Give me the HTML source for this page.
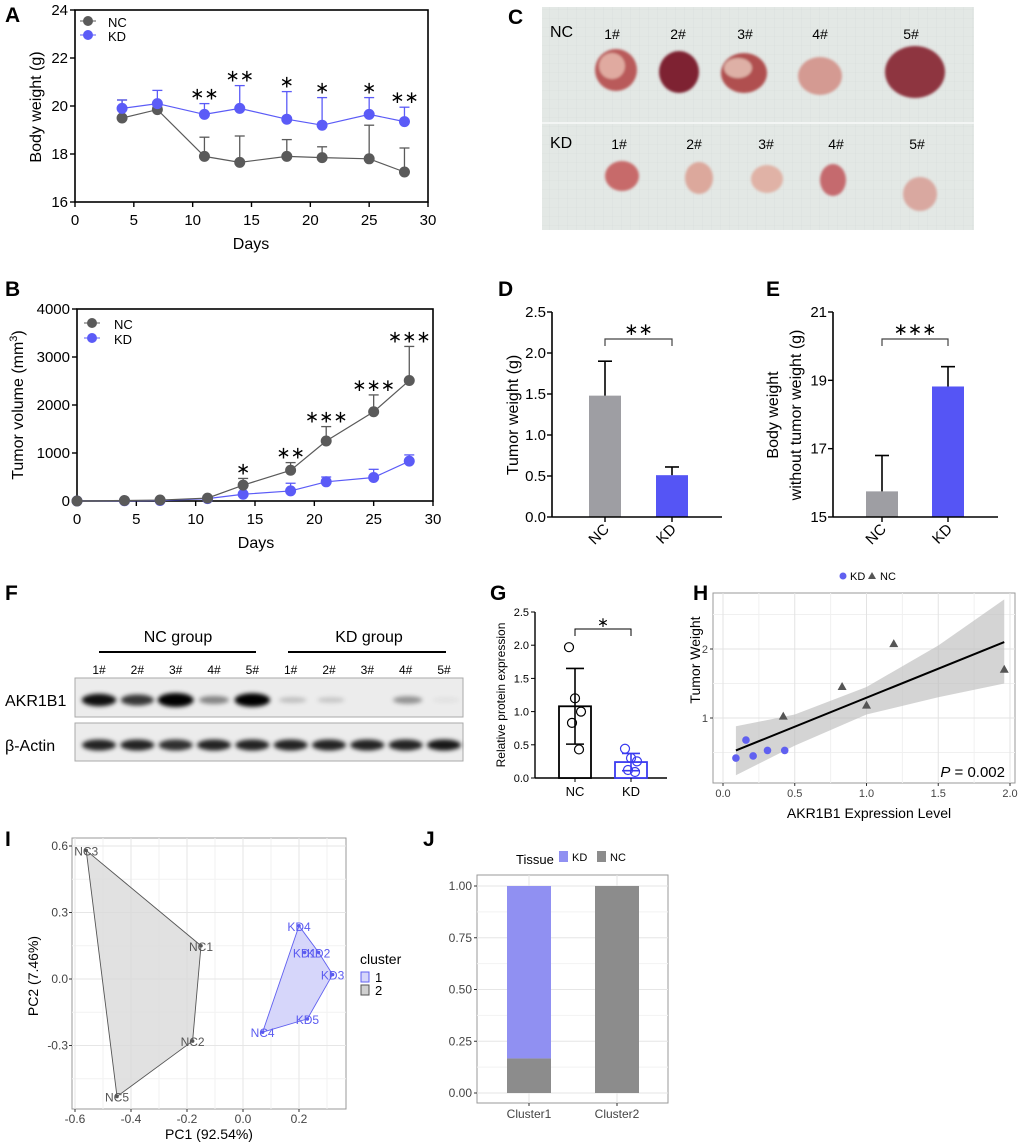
<!DOCTYPE html>
<html><head><meta charset="utf-8"><style>
html,body{margin:0;padding:0;background:#fff}
svg{display:block;font-family:"Liberation Sans",Arial,sans-serif}
</style></head><body>
<svg id="fig" width="1020" height="1142" viewBox="0 0 1020 1142" xmlns="http://www.w3.org/2000/svg">
<defs>
<pattern id="grid" width="9" height="9" patternUnits="userSpaceOnUse"><path d="M9 0H0V9" fill="none" stroke="#d5dbd8" stroke-width="0.6"/></pattern>
<filter id="blur2"><feGaussianBlur stdDeviation="2.2"/></filter>
<filter id="blur1"><feGaussianBlur stdDeviation="1.2"/></filter>
</defs>

<!-- Panel C photo -->
<g>
<rect x="542" y="7" width="432" height="223" fill="#e3e8e5"/>
<rect x="542" y="7" width="432" height="223" fill="url(#grid)"/>
<line x1="542" y1="123" x2="974" y2="123" stroke="#f3f5f4" stroke-width="2"/>
<text x="508" y="24" font-size="21" font-weight="bold">C</text>
<text x="550" y="37" font-size="16">NC</text>
<text x="550" y="148" font-size="16">KD</text>
<g font-size="14" text-anchor="middle">
<text x="612" y="39">1#</text><text x="678" y="39">2#</text><text x="745" y="39">3#</text><text x="820" y="39">4#</text><text x="911" y="39">5#</text>
<text x="619" y="149">1#</text><text x="694" y="149">2#</text><text x="766" y="149">3#</text><text x="836" y="149">4#</text><text x="917" y="149">5#</text>
</g>
<g filter="url(#blur1)">
<ellipse cx="616" cy="70" rx="21" ry="21" fill="#b95a5a"/><ellipse cx="612" cy="66" rx="13" ry="13" fill="#e0aaa0"/>
<ellipse cx="679" cy="72" rx="20" ry="21" fill="#7e2230"/>
<ellipse cx="744" cy="73" rx="23" ry="20" fill="#b05050"/><ellipse cx="738" cy="68" rx="14" ry="10" fill="#deb0a6"/>
<ellipse cx="820" cy="76" rx="22" ry="19" fill="#d49a92"/>
<ellipse cx="915" cy="72" rx="30" ry="26" fill="#8e3440"/>
<ellipse cx="622" cy="176" rx="17" ry="15" fill="#c76b6b"/>
<ellipse cx="699" cy="178" rx="14" ry="16" fill="#dca89c"/>
<ellipse cx="767" cy="179" rx="16" ry="14" fill="#e0b2a6"/>
<ellipse cx="833" cy="180" rx="13" ry="16" fill="#c56a6e"/>
<ellipse cx="920" cy="194" rx="17" ry="17" fill="#d9a8a0"/>
</g>
</g>

<g id="root"></g>
</svg>
<script>
// ---------- data ----------
const daysA = [4,7,11,14,18,21,25,28];
const ncWeight = [19.5,19.85,17.9,17.65,17.9,17.85,17.8,17.25];
const ncWeightUp = [20.25,19.95,18.7,18.75,18.6,18.3,19.2,18.25];
const kdWeight = [19.9,20.1,19.65,19.9,19.45,19.2,19.65,19.35];
const kdWeightUp = [20.25,20.65,20.1,20.85,20.6,20.35,20.35,19.95];
const starsA = ["","","**","**","*","*","*","**"];
const ticksAx = [0,5,10,15,20,25,30];
const ticksAy = [16,18,20,22,24];

const daysB = [0,4,7,11,14,18,21,25,28];
const ncVol = [0,10,20,60,330,640,1250,1860,2510];
const ncVolUp = [0,10,20,60,470,800,1550,2210,3220];
const kdVol = [0,5,10,50,140,210,400,490,830];
const kdVolUp = [0,5,10,50,140,370,500,660,960];
const starsB = ["","","","","*","**","***","***","***"];
const ticksBy = [0,1000,2000,3000,4000];

const groups = ["NC","KD"];
const tumorWeight = [1.48,0.51];
const tumorWeightUp = [1.9,0.61];
const ticksDy = [0,0.5,1.0,1.5,2.0,2.5];
const bodyNoTumor = [15.75,18.82];
const bodyNoTumorUp = [16.8,19.4];
const ticksEy = [15,17,19,21];

const laneNames = ["1#","2#","3#","4#","5#","1#","2#","3#","4#","5#"];
const akrIntensity = [0.85,0.7,1.0,0.4,0.95,0.18,0.15,0.0,0.35,0.05];
const actinIntensity = [0.85,0.85,0.8,0.85,0.85,0.85,0.85,0.85,0.85,0.9];

const relExprMean = [1.08,0.24];
const relExprSd = [0.57,0.13];
const relExprNC = [1.97,1.2,1.0,0.83,0.43];
const relExprKD = [0.44,0.3,0.25,0.12,0.09];
const ticksGy = [0,0.5,1.0,1.5,2.0,2.5];

const hKDx = [0.09,0.16,0.21,0.31,0.43];
const hKDy = [0.42,0.68,0.45,0.53,0.53];
const hNCx = [0.42,0.83,1.0,1.19,1.96];
const hNCy = [1.02,1.45,1.18,2.07,1.70];
const hFitX = [0.09,1.96];
const hFitY = [0.53,2.1];
const hBandX = [0.09,0.5,1.0,1.5,1.96];
const hBandLo = [0.17,0.6,1.05,1.3,1.5];
const hBandHi = [0.88,1.05,1.45,2.05,2.72];
const ticksHx = [0,0.5,1.0,1.5,2.0];
const ticksHy = [1,2];

const pcaNames = ["NC3","NC1","NC2","NC5","NC4","KD4","KD1","KD2","KD3","KD5"];
const pc1 = [-0.56,-0.15,-0.18,-0.45,0.07,0.2,0.22,0.27,0.32,0.23];
const pc2 = [0.58,0.15,-0.28,-0.53,-0.24,0.24,0.12,0.12,0.02,-0.18];
const pcaCluster = [2,2,2,2,1,1,1,1,1,1];
const hull2 = ["NC3","NC1","NC2","NC5"];
const hull1 = ["KD4","KD2","KD3","KD5","NC4"];
const ticksIx = [-0.6,-0.4,-0.2,0.0,0.2];
const ticksIy = [-0.3,0.0,0.3,0.6];

const clusters = ["Cluster1","Cluster2"];
const fracKD = [0.833,0];
const fracNC = [0.167,1];
const ticksJy = [0,0.25,0.5,0.75,1.0];

// ---------- helpers ----------
const NS="http://www.w3.org/2000/svg";
const root=document.getElementById('root');
function mk(tag,attrs,parent,txt){const e=document.createElementNS(NS,tag);for(const k in attrs)e.setAttribute(k,attrs[k]);if(txt!==undefined)e.textContent=txt;(parent||root).appendChild(e);return e;}
function lin(d0,d1,r0,r1){return v=>r0+(v-d0)*(r1-r0)/(d1-d0);}
function grp(name){const g=mk('g',{});


return g;}
function label(txt,x,y,name){const t=mk('text',{x:x,y:y,'font-size':21,'font-weight':'bold'},root,txt);

}
const GRAY="#5a5a5a", BLUE="#5b5bf7";

// ---------- Panel A ----------
(function(){
const g=grp('panel-a-body-weight');
const sx=lin(0,30,75,428), sy=lin(16,24,202,10);
mk('rect',{x:75,y:10,width:353,height:192,fill:'none',stroke:'#000','stroke-width':1.6},g);
ticksAx.forEach(v=>{mk('line',{x1:sx(v),x2:sx(v),y1:202,y2:207,stroke:'#000','stroke-width':1.4},g);mk('text',{x:sx(v),y:225,'font-size':15,'text-anchor':'middle'},g,v);});
ticksAy.forEach(v=>{mk('line',{x1:70,x2:75,y1:sy(v),y2:sy(v),stroke:'#000','stroke-width':1.4},g);mk('text',{x:68,y:sy(v)+5,'font-size':15,'text-anchor':'end'},g,v);});
mk('text',{x:251,y:249,'font-size':16,'text-anchor':'middle'},g,'Days');
mk('text',{x:0,y:0,'font-size':16,'text-anchor':'middle',transform:'translate(41,107) rotate(-90)'},g,'Body weight (g)');
[[ncWeight,ncWeightUp,GRAY,'nc'],[kdWeight,kdWeightUp,BLUE,'kd']].forEach(([vals,up,c,n])=>{
 const s=grp('series-'+n); g.appendChild(s);
 daysA.forEach((d,i)=>{mk('line',{x1:sx(d),x2:sx(d),y1:sy(vals[i]),y2:sy(up[i]),stroke:c,'stroke-width':1.3},s);mk('line',{x1:sx(d)-5,x2:sx(d)+5,y1:sy(up[i]),y2:sy(up[i]),stroke:c,'stroke-width':1.3},s);});
 mk('polyline',{points:daysA.map((d,i)=>sx(d)+','+sy(vals[i])).join(' '),fill:'none',stroke:c,'stroke-width':1.2},s);
 daysA.forEach((d,i)=>{const p=mk('circle',{cx:sx(d),cy:sy(vals[i]),r:5.5,fill:c},s);
 
 });
});
daysA.forEach((d,i)=>{if(starsA[i])mk('text',{x:sx(d),y:sy(kdWeightUp[i])-4,'font-size':17,'text-anchor':'middle'},g,starsA[i].replace(/\*/g,'∗'));});
mk('line',{x1:80,x2:96,y1:21,y2:21,stroke:GRAY},g);mk('circle',{cx:88,cy:21,r:5,fill:GRAY},g);mk('text',{x:108,y:27,'font-size':13},g,'NC');
mk('line',{x1:80,x2:96,y1:35,y2:35,stroke:BLUE},g);mk('circle',{cx:88,cy:35,r:5,fill:BLUE},g);mk('text',{x:108,y:41,'font-size':13},g,'KD');
label('A',5,22,'panel-label-a');
})();

// ---------- Panel B ----------
(function(){
const g=grp('panel-b-tumor-volume');
const sx=lin(0,30,77,433), sy=lin(0,4000,501,309);
mk('rect',{x:77,y:309,width:356,height:192,fill:'none',stroke:'#000','stroke-width':1.6},g);
ticksAx.forEach(v=>{mk('line',{x1:sx(v),x2:sx(v),y1:501,y2:506,stroke:'#000','stroke-width':1.4},g);mk('text',{x:sx(v),y:524,'font-size':15,'text-anchor':'middle'},g,v);});
ticksBy.forEach(v=>{mk('line',{x1:72,x2:77,y1:sy(v),y2:sy(v),stroke:'#000','stroke-width':1.4},g);mk('text',{x:70,y:sy(v)+5,'font-size':15,'text-anchor':'end'},g,v);});
mk('text',{x:256,y:548,'font-size':16,'text-anchor':'middle'},g,'Days');
const yl=mk('text',{x:0,y:0,'font-size':16,'text-anchor':'middle',transform:'translate(23,405) rotate(-90)'},g,'Tumor volume (mm');
mk('tspan',{dy:-6,'font-size':11},yl,'3');mk('tspan',{dy:6},yl,')');
[[kdVol,kdVolUp,BLUE,'kd'],[ncVol,ncVolUp,GRAY,'nc']].forEach(([vals,up,c,n])=>{
 const s=grp('series-'+n); g.appendChild(s);
 daysB.forEach((d,i)=>{if(up[i]>vals[i]){mk('line',{x1:sx(d),x2:sx(d),y1:sy(vals[i]),y2:sy(up[i]),stroke:c,'stroke-width':1.3},s);mk('line',{x1:sx(d)-5,x2:sx(d)+5,y1:sy(up[i]),y2:sy(up[i]),stroke:c,'stroke-width':1.3},s);}});
 mk('polyline',{points:daysB.map((d,i)=>sx(d)+','+sy(vals[i])).join(' '),fill:'none',stroke:c,'stroke-width':1.2},s);
 daysB.forEach((d,i)=>{const p=mk('circle',{cx:sx(d),cy:sy(vals[i]),r:5.5,fill:c},s);
 
 });
});
daysB.forEach((d,i)=>{if(starsB[i])mk('text',{x:sx(d),y:sy(ncVolUp[i])-4,'font-size':17,'text-anchor':'middle'},g,starsB[i].replace(/\*/g,'∗'));});
mk('line',{x1:84,x2:100,y1:323,y2:323,stroke:GRAY},g);mk('circle',{cx:92,cy:323,r:5,fill:GRAY},g);mk('text',{x:114,y:329,'font-size':13},g,'NC');
mk('line',{x1:84,x2:100,y1:338,y2:338,stroke:BLUE},g);mk('circle',{cx:92,cy:338,r:5,fill:BLUE},g);mk('text',{x:114,y:344,'font-size':13},g,'KD');
label('B',5,296,'panel-label-b');
})();

// ---------- Panels D & E ----------
function barPanel(name,axX,axR,centers,vals,ups,ticks,d0,d1,stars,ylab){
 const g=grp(name);
 const sy=lin(d0,d1,517,312);
 const cols=["#9e9ea3","#5555f5"];
 centers.forEach((cx,i)=>{const b=mk('rect',{x:cx-16,y:sy(vals[i]),width:32,height:517-sy(vals[i]),fill:cols[i]},g);
 
 
 mk('line',{x1:cx,x2:cx,y1:sy(vals[i]),y2:sy(ups[i]),stroke:'#000','stroke-width':1.6},g);
 mk('line',{x1:cx-7,x2:cx+7,y1:sy(ups[i]),y2:sy(ups[i]),stroke:'#000','stroke-width':1.6},g);
 mk('line',{x1:cx,x2:cx,y1:517,y2:522,stroke:'#000','stroke-width':1.4},g);
 mk('text',{x:0,y:0,'font-size':15,'text-anchor':'end',transform:`translate(${cx+5},${530}) rotate(-45)`},g,groups[i]);});
 mk('line',{x1:axX,x2:axR,y1:517,y2:517,stroke:'#000','stroke-width':1.6},g);
 mk('line',{x1:axX,x2:axX,y1:312,y2:517,stroke:'#000','stroke-width':1.6},g);
 ticks.forEach(v=>{mk('line',{x1:axX-5,x2:axX,y1:sy(v),y2:sy(v),stroke:'#000','stroke-width':1.4},g);mk('text',{x:axX-6,y:sy(v)+5,'font-size':15,'text-anchor':'end'},g,v.toFixed(name.includes('-d-')?1:0));});
 mk('polyline',{points:`${centers[0]},${346} ${centers[0]},${339} ${centers[1]},${339} ${centers[1]},${346}`,fill:'none',stroke:'#444','stroke-width':1.2},g);
 mk('text',{x:(centers[0]+centers[1])/2,y:335,'font-size':17,'text-anchor':'middle'},g,stars);
 ylab.forEach((t,k)=>mk('text',{x:0,y:0,'font-size':16,'text-anchor':'middle',transform:`translate(${ylab.length==1?518:778+k*23},415) rotate(-90)`},g,t));
}
barPanel('panel-d-tumor-weight',552,722,[605,672],tumorWeight,tumorWeightUp,ticksDy,0,2.5,'∗∗',['Tumor weight (g)']);
barPanel('panel-e-body-weight',833,998,[882,948],bodyNoTumor,bodyNoTumorUp,ticksEy,15,21,'∗∗∗',['Body weight','without tumor weight (g)']);
label('D',498,296,'panel-label-d');
label('E',766,296,'panel-label-e');

// ---------- Panel F western blot ----------
(function(){
const g=grp('panel-f-western-blot');
label('F',5,600,'panel-label-f');
mk('text',{x:178,y:642,'font-size':16,'text-anchor':'middle'},g,'NC group');
mk('text',{x:369,y:642,'font-size':16,'text-anchor':'middle'},g,'KD group');
mk('line',{x1:99,x2:256,y1:652,y2:652,stroke:'#000','stroke-width':2},g);
mk('line',{x1:288,x2:446,y1:652,y2:652,stroke:'#000','stroke-width':2},g);
const laneX=lin(0,9,99,444);
laneNames.forEach((n,i)=>mk('text',{x:laneX(i),y:674,'font-size':12,'text-anchor':'middle'},g,n));
mk('rect',{x:75,y:678,width:388,height:39,fill:'#ececec',stroke:'#aaa'},g);
mk('rect',{x:75,y:723,width:388,height:38,fill:'#ececec',stroke:'#aaa'},g);
mk('text',{x:5,y:706,'font-size':16},g,'AKR1B1');
mk('text',{x:5,y:751,'font-size':16},g,'β-Actin');
const bands=mk('g',{filter:'url(#blur2)'},g);
akrIntensity.forEach((v,i)=>{if(v>0.02){const b=mk('ellipse',{cx:laneX(i)+(i<5?0:2),cy:700,rx:13+v*5,ry:2+v*5,fill:'#000','fill-opacity':Math.min(1,v*1.1)},bands);
 
 }});
actinIntensity.forEach((v,i)=>{const b=mk('ellipse',{cx:laneX(i),cy:745,rx:17,ry:5.5,fill:'#000','fill-opacity':v},bands);
 
 });
})();

// ---------- Panel G ----------
(function(){
const g=grp('panel-g-relative-expression');
label('G',490,600,'panel-label-g');
const sy=lin(0,2.5,778,612), cx=[575,631], cols=['#000','#3b3bf0'];
mk('line',{x1:535,x2:667,y1:778,y2:778,stroke:'#000','stroke-width':1.4},g);
mk('line',{x1:535,x2:535,y1:612,y2:778,stroke:'#000','stroke-width':1.4},g);
ticksGy.forEach(v=>{mk('line',{x1:531,x2:535,y1:sy(v),y2:sy(v),stroke:'#000'},g);mk('text',{x:529,y:sy(v)+4,'font-size':11,'text-anchor':'end'},g,v.toFixed(1));});
mk('text',{x:0,y:0,'font-size':12,'text-anchor':'middle',transform:'translate(505,695) rotate(-90)'},g,'Relative protein expression');
[relExprNC,relExprKD].forEach((pts,i)=>{
 const b=mk('rect',{x:cx[i]-16,y:sy(relExprMean[i]),width:32,height:778-sy(relExprMean[i]),fill:'#fff',stroke:cols[i],'stroke-width':1.8},g);
 
 
 const lo=sy(relExprMean[i]-relExprSd[i]),hi=sy(relExprMean[i]+relExprSd[i]);
 mk('line',{x1:cx[i],x2:cx[i],y1:lo,y2:hi,stroke:cols[i],'stroke-width':1.6},g);
 [lo,hi].forEach(y=>mk('line',{x1:cx[i]-9,x2:cx[i]+9,y1:y,y2:y,stroke:cols[i],'stroke-width':1.6},g));
 const jit=[-6,0,6,-3,4];
 pts.forEach((v,k)=>mk('circle',{cx:cx[i]+jit[k],cy:sy(v),r:4.5,fill:'none',stroke:cols[i],'stroke-width':1.2},g));
 mk('line',{x1:cx[i],x2:cx[i],y1:778,y2:782,stroke:'#000'},g);
 mk('text',{x:cx[i],y:796,'font-size':13,'text-anchor':'middle'},g,groups[i]);
});
mk('polyline',{points:'575,636 575,629 631,629 631,636',fill:'none',stroke:'#000','stroke-width':1},g);
mk('text',{x:603,y:627,'font-size':14,'text-anchor':'middle'},g,'∗');
})();

// ---------- Panel H ----------
(function(){
const g=grp('panel-h-correlation');
label('H',693,600,'panel-label-h');
const sx=lin(0,2,723,1010), sy=lin(1,2,718,649);
mk('rect',{x:713,y:593,width:302,height:190,fill:'#fff',stroke:'#999'},g);
[0.25,0.75,1.25,1.75].forEach(v=>mk('line',{x1:sx(v),x2:sx(v),y1:593,y2:783,stroke:'#f0f0f0'},g));
[0.5,1.5,2.5].forEach(v=>mk('line',{x1:713,x2:1015,y1:sy(v),y2:sy(v),stroke:'#f0f0f0'},g));
ticksHx.forEach(v=>mk('line',{x1:sx(v),x2:sx(v),y1:593,y2:783,stroke:'#e3e3e3'},g));
ticksHy.forEach(v=>mk('line',{x1:713,x2:1015,y1:sy(v),y2:sy(v),stroke:'#e3e3e3'},g));
const band=hBandX.map((x,i)=>sx(x)+','+sy(hBandHi[i])).concat(hBandX.map((x,i)=>sx(x)+','+sy(hBandLo[i])).reverse()).join(' ');
mk('polygon',{points:band,fill:'#bdbdbd','fill-opacity':0.65},g);
mk('line',{x1:sx(hFitX[0]),y1:sy(hFitY[0]),x2:sx(hFitX[1]),y2:sy(hFitY[1]),stroke:'#000','stroke-width':2},g);
hKDx.forEach((x,i)=>{const p=mk('circle',{cx:sx(x),cy:sy(hKDy[i]),r:3.8,fill:'#6060f0'},g);
 
 });
hNCx.forEach((x,i)=>{const X=sx(x),Y=sy(hNCy[i]);const p=mk('polygon',{points:`${X},${Y-5} ${X-4.5},${Y+3} ${X+4.5},${Y+3}`,fill:'#555'},g);
 
 });
ticksHx.forEach(v=>{mk('line',{x1:sx(v),x2:sx(v),y1:783,y2:786,stroke:'#333'},g);mk('text',{x:sx(v),y:797,'font-size':11,'text-anchor':'middle','fill':'#444'},g,v.toFixed(1));});
ticksHy.forEach(v=>{mk('line',{x1:710,x2:713,y1:sy(v),y2:sy(v),stroke:'#333'},g);mk('text',{x:708,y:sy(v)+4,'font-size':11,'text-anchor':'end','fill':'#444'},g,v);});
mk('text',{x:869,y:818,'font-size':14,'text-anchor':'middle'},g,'AKR1B1 Expression Level');
mk('text',{x:0,y:0,'font-size':14,'text-anchor':'middle',transform:'translate(700,660) rotate(-90)'},g,'Tumor Weight');
const pt=mk('text',{x:1005,y:777,'font-size':15,'text-anchor':'end'},g,'');
mk('tspan',{'font-style':'italic'},pt,'P');mk('tspan',{},pt,' = 0.002');
mk('circle',{cx:843,cy:576,r:3.5,fill:'#6060f0'},g);mk('text',{x:850,y:580,'font-size':11},g,'KD');
mk('polygon',{points:'872,572 868,579 876,579',fill:'#555'},g);mk('text',{x:880,y:580,'font-size':11},g,'NC');
})();

// ---------- Panel I PCA ----------
(function(){
const g=grp('panel-i-pca');
label('I',5,846,'panel-label-i');
const sx=lin(-0.6,0.2,75,299), sy=lin(0,0.6,979,846);
mk('rect',{x:72,y:838,width:274,height:271,fill:'#fff',stroke:'#999'},g);
[-0.5,-0.3,-0.1,0.1,0.3].forEach(v=>mk('line',{x1:sx(v),x2:sx(v),y1:838,y2:1109,stroke:'#f2f2f2'},g));
[-0.45,-0.15,0.15,0.45].forEach(v=>mk('line',{x1:72,x2:346,y1:sy(v),y2:sy(v),stroke:'#f2f2f2'},g));
ticksIx.forEach(v=>mk('line',{x1:sx(v),x2:sx(v),y1:838,y2:1109,stroke:'#e6e6e6'},g));
ticksIy.forEach(v=>mk('line',{x1:72,x2:346,y1:sy(v),y2:sy(v),stroke:'#e6e6e6'},g));
const idx=n=>pcaNames.indexOf(n);
const h2=hull2.map(n=>sx(pc1[idx(n)])+','+sy(pc2[idx(n)])).join(' ');
const h1=hull1.map(n=>sx(pc1[idx(n)])+','+sy(pc2[idx(n)])).join(' ');
mk('polygon',{points:h2,fill:'#d9d9d9','fill-opacity':0.8,stroke:'#555','stroke-width':0.9},g);
mk('polygon',{points:h1,fill:'#d6d6fa',stroke:'#6060f0','stroke-width':0.9},g);
pcaNames.forEach((n,i)=>{const c=pcaCluster[i]==1?'#5b5bf0':'#555';
 mk('circle',{cx:sx(pc1[i]),cy:sy(pc2[i]),r:1.8,fill:c},g);
 const t=mk('text',{x:sx(pc1[i]),y:sy(pc2[i])+5,'font-size':12,'text-anchor':'middle',fill:c},g,n);
 
 });
ticksIx.forEach(v=>{mk('line',{x1:sx(v),x2:sx(v),y1:1109,y2:1112,stroke:'#333'},g);mk('text',{x:sx(v),y:1123,'font-size':12,'text-anchor':'middle',fill:'#444'},g,v.toFixed(1));});
ticksIy.forEach(v=>{mk('line',{x1:69,x2:72,y1:sy(v),y2:sy(v),stroke:'#333'},g);mk('text',{x:68,y:sy(v)+4,'font-size':12,'text-anchor':'end',fill:'#444'},g,v.toFixed(1));});
mk('text',{x:209,y:1139,'font-size':14,'text-anchor':'middle'},g,'PC1 (92.54%)');
mk('text',{x:0,y:0,'font-size':14,'text-anchor':'middle',transform:'translate(38,976) rotate(-90)'},g,'PC2 (7.46%)');
mk('text',{x:360,y:964,'font-size':14},g,'cluster');
mk('rect',{x:361,y:972,width:8,height:10,fill:'#d6d6fa',stroke:'#6060f0'},g);mk('text',{x:375,y:982,'font-size':13},g,'1');
mk('rect',{x:361,y:985,width:8,height:10,fill:'#d0d0d0',stroke:'#555'},g);mk('text',{x:375,y:995,'font-size':13},g,'2');
})();

// ---------- Panel J ----------
(function(){
const g=grp('panel-j-stacked-bars');
label('J',423,846,'panel-label-j');
const sy=lin(0,1,1093,886), cx=[529,617];
mk('rect',{x:477,y:875,width:191,height:228,fill:'#fff',stroke:'#999'},g);
[0.125,0.375,0.625,0.875].forEach(v=>mk('line',{x1:477,x2:668,y1:sy(v),y2:sy(v),stroke:'#f2f2f2'},g));
ticksJy.forEach(v=>mk('line',{x1:477,x2:668,y1:sy(v),y2:sy(v),stroke:'#e6e6e6'},g));
cx.forEach(x=>mk('line',{x1:x,x2:x,y1:875,y2:1103,stroke:'#e6e6e6'},g));
clusters.forEach((c,i)=>{
 const n=mk('rect',{x:cx[i]-22,y:sy(fracNC[i]),width:44,height:1093-sy(fracNC[i]),fill:'#8c8c8c'},g);
 
 
 if(fracKD[i]>0){const k=mk('rect',{x:cx[i]-22,y:sy(fracNC[i]+fracKD[i]),width:44,height:sy(fracNC[i])-sy(fracNC[i]+fracKD[i]),fill:'#9090f2'},g);
 
 }
 mk('line',{x1:cx[i],x2:cx[i],y1:1103,y2:1106,stroke:'#333'},g);
 mk('text',{x:cx[i],y:1118,'font-size':12,'text-anchor':'middle',fill:'#444'},g,c);
});
ticksJy.forEach(v=>{mk('line',{x1:474,x2:477,y1:sy(v),y2:sy(v),stroke:'#333'},g);mk('text',{x:472,y:sy(v)+4,'font-size':12,'text-anchor':'end',fill:'#444'},g,v.toFixed(2));});
mk('text',{x:516,y:864,'font-size':13},g,'Tissue');
mk('rect',{x:559,y:851,width:9,height:11,fill:'#9090f2'},g);mk('text',{x:572,y:861,'font-size':11},g,'KD');
mk('rect',{x:597,y:851,width:9,height:11,fill:'#8c8c8c'},g);mk('text',{x:610,y:861,'font-size':11},g,'NC');
})();
</script>
</body></html>
